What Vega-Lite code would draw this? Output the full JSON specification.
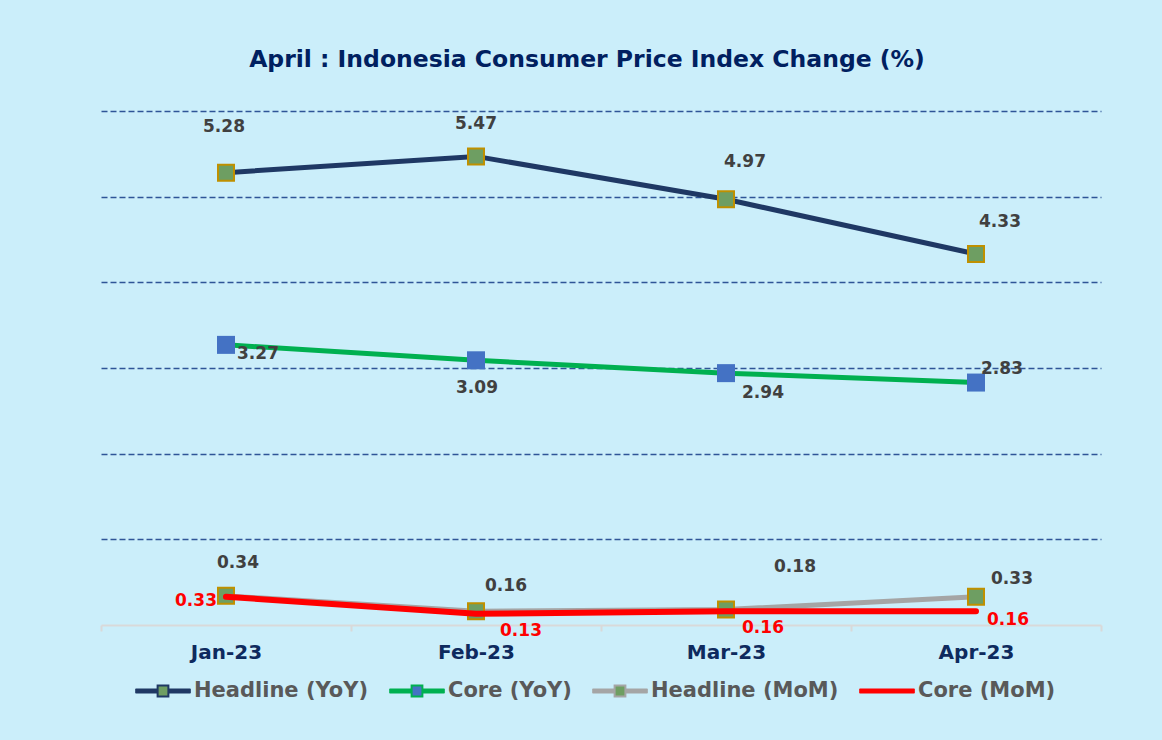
{
  "$schema": "https://vega.github.io/schema/vega-lite/v6.json",
  "width": 1000,
  "height": 514,
  "autosize": {"type": "none"},
  "padding": {"left": 101, "top": 111, "right": 61, "bottom": 115},
  "background": "#cbeefa",
  "title": {
    "text": "April : Indonesia Consumer Price Index Change (%)",
    "font": "DejaVu Sans",
    "fontSize": 23.5,
    "fontWeight": "bold",
    "color": "#002060",
    "anchor": "middle",
    "dx": -14,
    "offset": 40
  },
  "config": {
    "view": {"stroke": null},
    "legend": {
      "orient": "none",
      "legendX": 34,
      "legendY": 552,
      "direction": "horizontal",
      "padding": 0,
      "symbolSize": 2900,
      "symbolStrokeWidth": 2,
      "labelFont": "DejaVu Sans",
      "labelFontSize": 21,
      "labelFontWeight": "bold",
      "labelColor": "#595959",
      "labelOffset": 3,
      "columnPadding": 17,
      "labelLimit": 400
    }
  },
  "data": {
    "values": [
      {"series": "Headline (YoY)", "month": "Jan-23", "value": 5.28},
      {"series": "Headline (YoY)", "month": "Feb-23", "value": 5.47},
      {"series": "Headline (YoY)", "month": "Mar-23", "value": 4.97},
      {"series": "Headline (YoY)", "month": "Apr-23", "value": 4.33},
      {"series": "Core (YoY)", "month": "Jan-23", "value": 3.27},
      {"series": "Core (YoY)", "month": "Feb-23", "value": 3.09},
      {"series": "Core (YoY)", "month": "Mar-23", "value": 2.94},
      {"series": "Core (YoY)", "month": "Apr-23", "value": 2.83},
      {"series": "Headline (MoM)", "month": "Jan-23", "value": 0.34},
      {"series": "Headline (MoM)", "month": "Feb-23", "value": 0.16},
      {"series": "Headline (MoM)", "month": "Mar-23", "value": 0.18},
      {"series": "Headline (MoM)", "month": "Apr-23", "value": 0.33},
      {"series": "Core (MoM)", "month": "Jan-23", "value": 0.33},
      {"series": "Core (MoM)", "month": "Feb-23", "value": 0.13},
      {"series": "Core (MoM)", "month": "Mar-23", "value": 0.16},
      {"series": "Core (MoM)", "month": "Apr-23", "value": 0.16}
    ]
  },
  "encoding": {
    "x": {
      "field": "month",
      "type": "ordinal",
      "sort": ["Jan-23", "Feb-23", "Mar-23", "Apr-23"],
      "scale": {"type": "band", "paddingInner": 0, "paddingOuter": 0},
      "bandPosition": 0.5,
      "axis": {
        "title": null,
        "labelAngle": 0,
        "tickBand": "extent",
        "domainColor": "#d9d9d9",
        "domainWidth": 2,
        "tickColor": "#d9d9d9",
        "tickWidth": 2,
        "tickSize": 6,
        "labelFont": "DejaVu Sans",
        "labelFontSize": 20,
        "labelFontWeight": "bold",
        "labelColor": "#0e2a5e",
        "labelPadding": 11,
        "grid": false
      }
    },
    "y": {
      "field": "value",
      "type": "quantitative",
      "scale": {"domain": [0, 6], "nice": false},
      "axis": {
        "title": null,
        "labels": false,
        "ticks": false,
        "domain": false,
        "values": [1, 2, 3, 4, 5, 6],
        "grid": true,
        "gridColor": "#2f5597",
        "gridDash": [6, 3],
        "gridWidth": 1.5
      }
    }
  },
  "layer": [
    {
      "transform": [{"filter": "datum.series === 'Headline (YoY)'"}],
      "mark": {"type": "line", "strokeWidth": 5},
      "encoding": {
        "color": {
          "field": "series",
          "type": "nominal",
          "scale": {
            "domain": ["Headline (YoY)", "Core (YoY)", "Headline (MoM)", "Core (MoM)"],
            "range": ["#1f3864", "#00b050", "#a5a5a5", "#ff0000"]
          },
          "legend": {
            "title": null,
            "symbolType": "M-1,-0.06H-0.2M-1,-0.02H-0.2M-1,0.02H-0.2M-1,0.06H-0.2M0.2,-0.06H1M0.2,-0.02H1M0.2,0.02H1M0.2,0.06H1M-0.2,-0.2H0.2V0.2H-0.2Z",
            "encode": {
              "symbols": {
                "update": {
                  "fill": {"signal": "datum.value === 'Headline (YoY)' || datum.value === 'Headline (MoM)' ? '#6e9e62' : (datum.value === 'Core (YoY)' ? '#4472c4' : 'transparent')"},
                  "shape": {"signal": "datum.value === 'Core (MoM)' ? 'M0,-0.2M0,0.2M-1,-0.06H1M-1,-0.02H1M-1,0.02H1M-1,0.06H1' : 'M-1,-0.06H-0.2M-1,-0.02H-0.2M-1,0.02H-0.2M-1,0.06H-0.2M0.2,-0.06H1M0.2,-0.02H1M0.2,0.02H1M0.2,0.06H1M-0.2,-0.2H0.2V0.2H-0.2Z'"},
                  "strokeCap": {"value": "round"},
                  "opacity": {"value": 1}
                }
              }
            }
          }
        }
      }
    },
    {
      "transform": [{"filter": "datum.series === 'Headline (YoY)'"}],
      "mark": {"type": "point", "shape": "square", "filled": true, "size": 256, "fill": "#6e9e62", "stroke": "#bf9000", "strokeWidth": 2, "opacity": 1}
    },
    {
      "transform": [{"filter": "datum.series === 'Core (YoY)'"}],
      "mark": {"type": "line", "strokeWidth": 5},
      "encoding": {"color": {"field": "series", "type": "nominal"}}
    },
    {
      "transform": [{"filter": "datum.series === 'Core (YoY)'"}],
      "mark": {"type": "point", "shape": "square", "filled": true, "size": 324, "fill": "#4472c4", "opacity": 1}
    },
    {
      "transform": [{"filter": "datum.series === 'Headline (MoM)'"}],
      "mark": {"type": "line", "strokeWidth": 5},
      "encoding": {"color": {"field": "series", "type": "nominal"}}
    },
    {
      "transform": [{"filter": "datum.series === 'Headline (MoM)'"}],
      "mark": {"type": "point", "shape": "square", "filled": true, "size": 256, "fill": "#6e9e62", "stroke": "#bf9000", "strokeWidth": 2, "opacity": 1}
    },
    {
      "transform": [{"filter": "datum.series === 'Core (MoM)'"}],
      "mark": {"type": "line", "strokeWidth": 6, "strokeCap": "round"},
      "encoding": {"color": {"field": "series", "type": "nominal"}}
    },
    {
      "transform": [{"filter": "datum.series === 'Headline (YoY)'"}],
      "mark": {
        "type": "text", "font": "DejaVu Sans", "fontSize": 17, "fontWeight": "bold", "color": "#404040",
        "align": "center", "baseline": "middle",
        "dx": {"expr": "datum.month === 'Jan-23' ? -2 : datum.month === 'Feb-23' ? 0 : datum.month === 'Mar-23' ? 19 : 24"},
        "dy": {"expr": "datum.month === 'Jan-23' ? -46 : datum.month === 'Feb-23' ? -32 : datum.month === 'Mar-23' ? -37 : -32"}
      },
      "encoding": {"text": {"field": "value", "type": "quantitative", "format": ".2f"}}
    },
    {
      "transform": [{"filter": "datum.series === 'Core (YoY)'"}],
      "mark": {
        "type": "text", "font": "DejaVu Sans", "fontSize": 17, "fontWeight": "bold", "color": "#404040",
        "align": "center", "baseline": "middle",
        "dx": {"expr": "datum.month === 'Jan-23' ? 32 : datum.month === 'Feb-23' ? 1 : datum.month === 'Mar-23' ? 37 : 26"},
        "dy": {"expr": "datum.month === 'Jan-23' ? 9 : datum.month === 'Feb-23' ? 28 : datum.month === 'Mar-23' ? 20 : -14"}
      },
      "encoding": {"text": {"field": "value", "type": "quantitative", "format": ".2f"}}
    },
    {
      "transform": [{"filter": "datum.series === 'Headline (MoM)'"}],
      "mark": {
        "type": "text", "font": "DejaVu Sans", "fontSize": 17, "fontWeight": "bold", "color": "#404040",
        "align": "center", "baseline": "middle",
        "dx": {"expr": "datum.month === 'Jan-23' ? 12 : datum.month === 'Feb-23' ? 30 : datum.month === 'Mar-23' ? 69 : 36"},
        "dy": {"expr": "datum.month === 'Jan-23' ? -33 : datum.month === 'Feb-23' ? -25 : datum.month === 'Mar-23' ? -43 : -18"}
      },
      "encoding": {"text": {"field": "value", "type": "quantitative", "format": ".2f"}}
    },
    {
      "transform": [{"filter": "datum.series === 'Core (MoM)'"}],
      "mark": {
        "type": "text", "font": "DejaVu Sans", "fontSize": 17, "fontWeight": "bold", "color": "#ff0000",
        "align": "center", "baseline": "middle",
        "dx": {"expr": "datum.month === 'Jan-23' ? -30 : datum.month === 'Feb-23' ? 45 : datum.month === 'Mar-23' ? 37 : 32"},
        "dy": {"expr": "datum.month === 'Jan-23' ? 4 : datum.month === 'Feb-23' ? 17 : datum.month === 'Mar-23' ? 17 : 9"}
      },
      "encoding": {"text": {"field": "value", "type": "quantitative", "format": ".2f"}}
    }
  ]
}
